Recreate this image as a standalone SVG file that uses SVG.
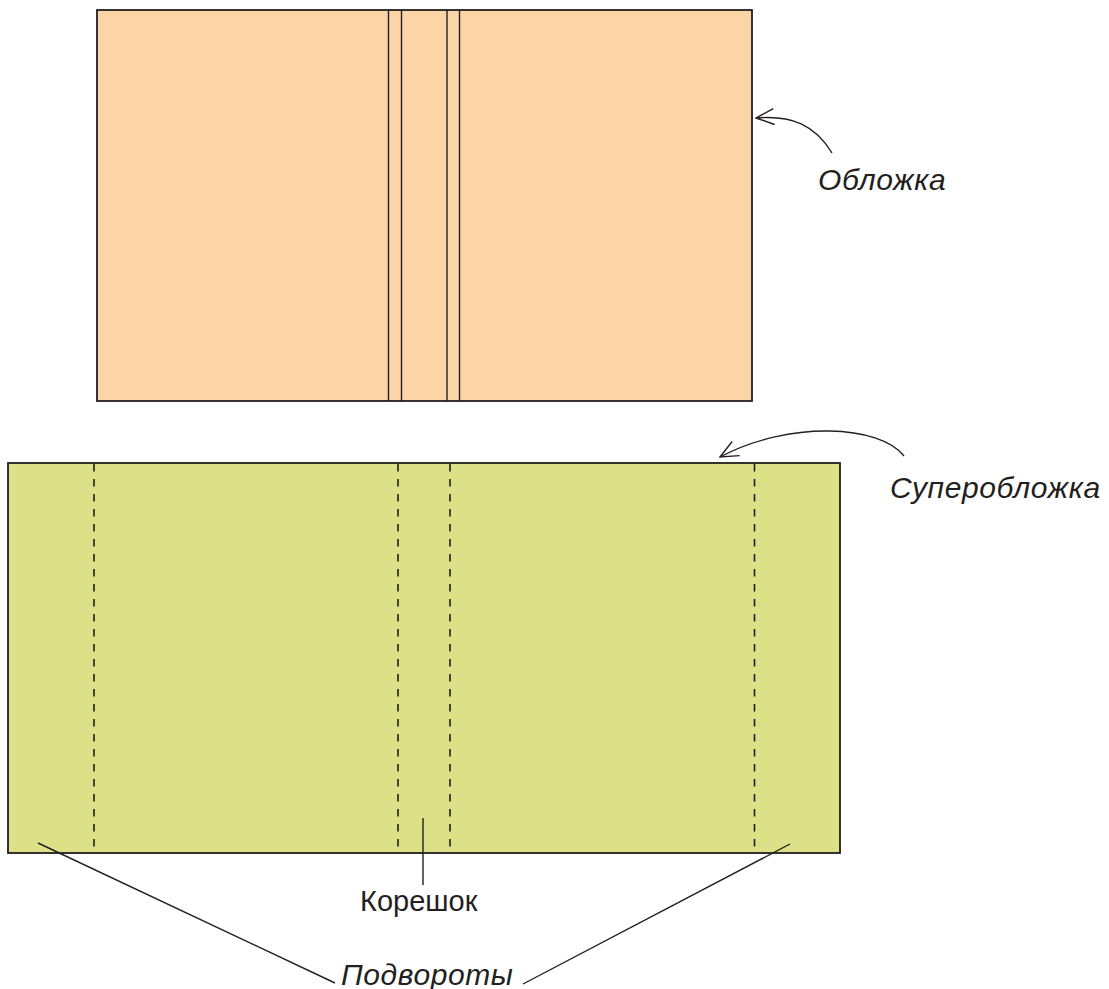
<svg xmlns="http://www.w3.org/2000/svg" width="1109" height="989" viewBox="0 0 1109 989">
<style>
.edge{fill:none;stroke:#231f20;stroke-width:1.4}
.fold{fill:none;stroke:#231f20;stroke-width:1.6;stroke-dasharray:7.5 7.5}
.lbl{font-family:"Liberation Sans",Arial,sans-serif;font-size:30px;fill:#231f20}
.it{font-style:italic;letter-spacing:0.6px}
</style>
<defs>
<marker id="open" viewBox="0 0 20 20" refX="19" refY="10" markerWidth="20" markerHeight="20" markerUnits="userSpaceOnUse" orient="auto">
<path d="M1,2 L19,10 L1,18" fill="none" stroke="#231f20" stroke-width="1.4"/>
</marker>
</defs>
<rect width="1109" height="989" fill="#ffffff"/>
<g id="cover">
<rect x="97" y="10" width="655" height="391" fill="#fbd5a5" stroke="#231f20" stroke-width="1.8"/>
<line class="edge" x1="388.5" y1="10" x2="388.5" y2="401"/>
<line class="edge" x1="401.5" y1="10" x2="401.5" y2="401"/>
<line class="edge" x1="447" y1="10" x2="447" y2="401"/>
<line class="edge" x1="459.5" y1="10" x2="459.5" y2="401"/>
</g>
<g id="jacket">
<rect x="8" y="463" width="832" height="390" fill="#dce086" stroke="#231f20" stroke-width="1.8"/>
<line class="fold" x1="94" y1="464" x2="94" y2="852"/>
<line class="fold" x1="398" y1="464" x2="398" y2="852"/>
<line class="fold" x1="450" y1="464" x2="450" y2="852"/>
<line class="fold" x1="754.5" y1="464" x2="754.5" y2="852"/>
</g>
<g id="connectors">
<path class="edge" d="M832,153 C815,125 792,115 756,118" marker-end="url(#open)"/>
<path class="edge" d="M904,456 C880,425 790,420 720,457" marker-end="url(#open)"/>
<line class="edge" x1="423" y1="818" x2="423" y2="885"/>
<line class="edge" x1="38" y1="843" x2="335" y2="983"/>
<line class="edge" x1="790" y1="844" x2="523" y2="984"/>
</g>
<g id="label-oblozhka"><text class="lbl it" x="818" y="190">Обложка</text></g>
<g id="label-superoblozhka"><text class="lbl it" x="890" y="498">Суперобложка</text></g>
<g id="label-koreshok"><text class="lbl" x="360" y="911" style="font-size:29px">Корешок</text></g>
<g id="label-podvoroty"><text class="lbl it" x="341" y="985">Подвороты</text></g>
</svg>
